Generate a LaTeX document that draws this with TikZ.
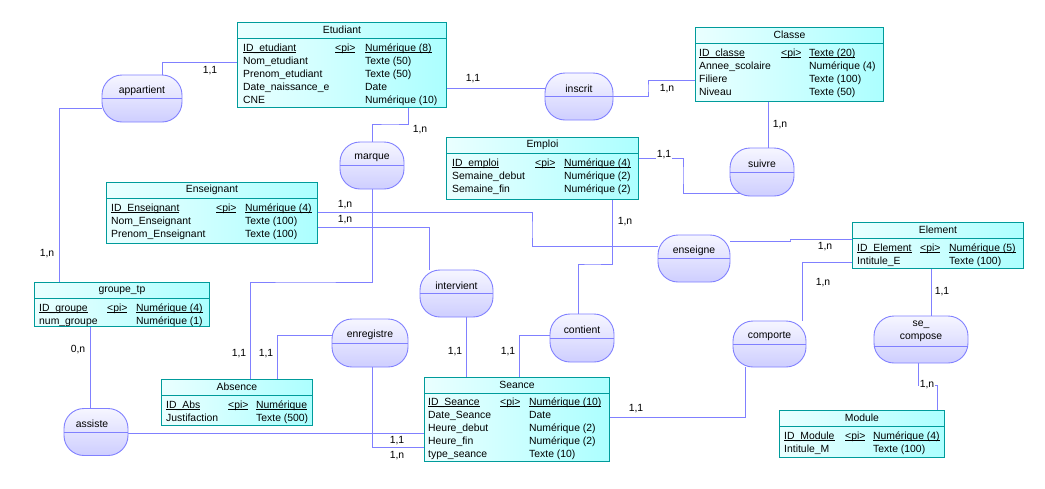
\documentclass[tikz,border=0pt]{standalone}
\usepackage{fontspec}
\setmainfont{Liberation Sans}
\usetikzlibrary{calc}
\pgfdeclarelayer{fond}
\pgfsetlayers{fond,main}

\definecolor{entBord}{RGB}{0,155,155}
\definecolor{entFondA}{RGB}{234,255,255}
\definecolor{entFondB}{RGB}{172,255,255}
\definecolor{assBord}{RGB}{128,128,255}
\definecolor{assFondA}{RGB}{246,246,255}
\definecolor{assFondB}{RGB}{206,206,255}

\newcommand{\mcdfont}{\fontsize{10.4}{13}\selectfont}
% identifiant souligne
\newcommand{\souligne}[1]{\leavevmode\setbox0\hbox{#1}\rlap{\rule[-1.8pt]{\wd0}{0.7pt}}\box0}

\tikzset{
  entite/.style={draw=entBord, line width=0.9pt, left color=entFondA, right color=entFondB,
                 anchor=north west, inner sep=0pt},
  titre/.style={inner sep=0pt},
  corps/.style={anchor=north west, inner sep=0pt},
  trait/.style={draw=entBord, line width=0.9pt},
  assoc/.style={draw=assBord, line width=0.9pt, rounded corners=20pt,
                top color=assFondA, bottom color=assFondB, inner sep=0pt},
  trait-a/.style={draw=assBord, line width=0.9pt},
  lien/.style={draw=assBord, line width=0.9pt},
  card/.style={inner sep=1pt}
}

\begin{document}
\begin{tikzpicture}[x=1pt, y=-1pt, every node/.style={font=\mcdfont}]
\useasboundingbox (0,0) rectangle (1045,488);

% ===================== ENTITES =====================
% Etudiant
\node[entite, minimum width=209pt, minimum height=85pt] (etudiant) at (237,22) {};
\node[titre] (etudiant-t) at ([yshift=-8pt]etudiant.north) {Etudiant};
\draw[trait] ([yshift=-16pt]etudiant.north west) -- ([yshift=-16pt]etudiant.north east);
\node[corps] (etudiant-c) at (243,42) {\begin{tabular}{@{}p{92pt}@{}p{30pt}@{}l@{}}
  \souligne{ID\_etudiant} & \souligne{<pi>} & \souligne{Numérique (8)}\\
  Nom\_etudiant & & Texte (50)\\
  Prenom\_etudiant & & Texte (50)\\
  Date\_naissance\_e & & Date\\
  CNE & & Numérique (10)
\end{tabular}};

% Classe
\node[entite, minimum width=188pt, minimum height=74pt] (classe) at (695,27) {};
\node[titre] (classe-t) at ([yshift=-8pt]classe.north) {Classe};
\draw[trait] ([yshift=-16pt]classe.north west) -- ([yshift=-16pt]classe.north east);
\node[corps] (classe-c) at (699,47) {\begin{tabular}{@{}p{82pt}@{}p{28pt}@{}l@{}}
  \souligne{ID\_classe} & \souligne{<pi>} & \souligne{Texte (20)}\\
  Annee\_scolaire & & Numérique (4)\\
  Filiere & & Texte (100)\\
  Niveau & & Texte (50)
\end{tabular}};

% Emploi
\node[entite, minimum width=192pt, minimum height=62pt] (emploi) at (446,137) {};
\node[titre] (emploi-t) at ([yshift=-8pt]emploi.north) {Emploi};
\draw[trait] ([yshift=-16pt]emploi.north west) -- ([yshift=-16pt]emploi.north east);
\node[corps] (emploi-c) at (452,157) {\begin{tabular}{@{}p{83pt}@{}p{29pt}@{}l@{}}
  \souligne{ID\_emploi} & \souligne{<pi>} & \souligne{Numérique (4)}\\
  Semaine\_debut & & Numérique (2)\\
  Semaine\_fin & & Numérique (2)
\end{tabular}};

% Enseignant
\node[entite, minimum width=211pt, minimum height=61pt] (enseignant) at (106,182) {};
\node[titre] (enseignant-t) at ([yshift=-8pt]enseignant.north) {Enseignant};
\draw[trait] ([yshift=-16pt]enseignant.north west) -- ([yshift=-16pt]enseignant.north east);
\node[corps] (enseignant-c) at (111,202) {\begin{tabular}{@{}p{105pt}@{}p{29pt}@{}l@{}}
  \souligne{ID\_Enseignant} & \souligne{<pi>} & \souligne{Numérique (4)}\\
  Nom\_Enseignant & & Texte (100)\\
  Prenom\_Enseignant & & Texte (100)
\end{tabular}};

% Element
\node[entite, minimum width=171pt, minimum height=46pt] (element) at (852,222) {};
\node[titre] (element-t) at ([yshift=-8pt]element.north) {Element};
\draw[trait] ([yshift=-16pt]element.north west) -- ([yshift=-16pt]element.north east);
\node[corps] (element-c) at (857,242) {\begin{tabular}{@{}p{63pt}@{}p{29pt}@{}l@{}}
  \souligne{ID\_Element} & \souligne{<pi>} & \souligne{Numérique (5)}\\
  Intitule\_E & & Texte (100)
\end{tabular}};

% groupe_tp
\node[entite, minimum width=175pt, minimum height=44pt] (groupe) at (34,282) {};
\node[titre] (groupe-t) at ([yshift=-8pt]groupe.north) {groupe\_tp};
\draw[trait] ([yshift=-16pt]groupe.north west) -- ([yshift=-16pt]groupe.north east);
\node[corps] (groupe-c) at (39,302) {\begin{tabular}{@{}p{68pt}@{}p{29pt}@{}l@{}}
  \souligne{ID\_groupe} & \souligne{<pi>} & \souligne{Numérique (4)}\\
  num\_groupe & & Numérique (1)
\end{tabular}};

% Absence
\node[entite, minimum width=151pt, minimum height=46pt] (absence) at (161,379) {};
\node[titre] (absence-t) at ([yshift=-8pt]absence.north) {Absence};
\draw[trait] ([yshift=-16pt]absence.north west) -- ([yshift=-16pt]absence.north east);
\node[corps] (absence-c) at (166,399) {\begin{tabular}{@{}p{62pt}@{}p{28pt}@{}l@{}}
  \souligne{ID\_Abs} & \souligne{<pi>} & \souligne{Numérique}\\
  Justifaction & & Texte (500)
\end{tabular}};

% Seance
\node[entite, minimum width=185pt, minimum height=84pt] (seance) at (424,377) {};
\node[titre] (seance-t) at ([yshift=-8pt]seance.north) {Seance};
\draw[trait] ([yshift=-16pt]seance.north west) -- ([yshift=-16pt]seance.north east);
\node[corps] (seance-c) at (428,396) {\begin{tabular}{@{}p{72pt}@{}p{29pt}@{}l@{}}
  \souligne{ID\_Seance} & \souligne{<pi>} & \souligne{Numérique (10)}\\
  Date\_Seance & & Date\\
  Heure\_debut & & Numérique (2)\\
  Heure\_fin & & Numérique (2)\\
  type\_seance & & Texte (10)
\end{tabular}};

% Module
\node[entite, minimum width=165pt, minimum height=47pt] (module) at (779,410) {};
\node[titre] (module-t) at ([yshift=-8pt]module.north) {Module};
\draw[trait] ([yshift=-16pt]module.north west) -- ([yshift=-16pt]module.north east);
\node[corps] (module-c) at (784,430) {\begin{tabular}{@{}p{61pt}@{}p{28pt}@{}l@{}}
  \souligne{ID\_Module} & \souligne{<pi>} & \souligne{Numérique (4)}\\
  Intitule\_M & & Texte (100)
\end{tabular}};

% ===================== ASSOCIATIONS =====================
\node[assoc, minimum width=80pt, minimum height=47pt] (appartient) at (142,98.5) {};
\node (appartient-t) at ([yshift=8pt]appartient.center) {appartient};
\draw[trait-a] (appartient.west) -- (appartient.east);

\node[assoc, minimum width=68pt, minimum height=47pt] (inscrit) at (579,96.5) {};
\node (inscrit-t) at ([yshift=8pt]inscrit.center) {inscrit};
\draw[trait-a] (inscrit.west) -- (inscrit.east);

\node[assoc, minimum width=64pt, minimum height=47pt] (marque) at (372,165.5) {};
\node (marque-t) at ([yshift=8pt]marque.center) {marque};
\draw[trait-a] (marque.west) -- (marque.east);

\node[assoc, minimum width=64pt, minimum height=48pt] (suivre) at (762,172) {};
\node (suivre-t) at ([yshift=8pt]suivre.center) {suivre};
\draw[trait-a] (suivre.west) -- (suivre.east);

\node[assoc, minimum width=72pt, minimum height=47pt] (enseigne) at (694,258.5) {};
\node (enseigne-t) at ([yshift=8pt]enseigne.center) {enseigne};
\draw[trait-a] (enseigne.west) -- (enseigne.east);

\node[assoc, minimum width=73pt, minimum height=47pt] (intervient) at (456.5,293.5) {};
\node (intervient-t) at ([yshift=8pt]intervient.center) {intervient};
\draw[trait-a] (intervient.west) -- (intervient.east);

\node[assoc, minimum width=64pt, minimum height=48pt] (contient) at (582,338) {};
\node (contient-t) at ([yshift=8pt]contient.center) {contient};
\draw[trait-a] (contient.west) -- (contient.east);

\node[assoc, minimum width=76pt, minimum height=48pt] (enregistre) at (370,343) {};
\node (enregistre-t) at ([yshift=8pt]enregistre.center) {enregistre};
\draw[trait-a] (enregistre.west) -- (enregistre.east);

\node[assoc, minimum width=73pt, minimum height=46pt] (comporte) at (769.5,344) {};
\node (comporte-t) at ([yshift=8pt]comporte.center) {comporte};
\draw[trait-a] (comporte.west) -- (comporte.east);

\node[assoc, minimum width=94pt, minimum height=47pt] (secompose) at (921,339.5) {};
\node[align=center] (secompose-t) at ([yshift=8pt]secompose.center) {se\_\\compose};
\draw[trait-a] (secompose.west |- 0,346) -- (secompose.east |- 0,346);

\node[assoc, minimum width=64pt, minimum height=47pt] (assiste) at (96,432) {};
\node (assiste-t) at ([xshift=-4pt,yshift=8pt]assiste.center) {assiste};
\draw[trait-a] (assiste.west) -- (assiste.east);

% ===================== LIENS =====================
\begin{pgfonlayer}{fond}
  \draw[lien] (appartient.north -| 162,0) |- (etudiant.west |- 0,62);
  \draw[lien] (appartient.west |- 0,108) -| (groupe.north -| 59,0);
  \draw[lien] (etudiant.east |- 0,88) -- (inscrit.west |- 0,88);
  \draw[lien] (inscrit.east |- 0,96) -| (648,88) |- (classe.west |- 0,80);
  \draw[lien] (classe.south -| 768,0) -- (suivre.north -| 768,0);
  \draw[lien] (emploi.east |- 0,158) -| (683,175) |- ([xshift=10pt,yshift=3pt]suivre.south west);
  \draw[lien] (etudiant.south -| 408,0) |- (390,124) -| (marque.north);
  \draw[lien] (marque.south) |- (300,282) -| (absence.north -| 250,0);
  \draw[lien] (enseignant.east |- 0,212) -| (532,230) |- (enseigne.west |- 0,246);
  \draw[lien] (enseignant.east |- 0,227) -| (intervient.north -| 429,0);
  \draw[lien] (intervient.south -| 466,0) -- (seance.north -| 466,0);
  \draw[lien] (emploi.south -| 612,0) |- (590,264) -| (contient.north -| 578,0);
  \draw[lien] (contient.west |- 0,335) -| (seance.north -| 519,0);
  \draw[lien] (enseigne.east |- 0,241) -| (790,240) |- (element.west |- 0,239);
  \draw[lien] (element.west |- 0,262) -| (comporte.north -| 802,0);
  \draw[lien] (comporte.south -| 745,0) |- (seance.east |- 0,417);
  \draw[lien] (element.south -| 931,0) -- (secompose.north -| 931,0);
  \draw[lien] (secompose.south -| 918,0) |- (930,385) -| (module.north -| 937,0);
  \draw[lien] (enregistre.west |- 0,335) -| (absence.north -| 277,0);
  \draw[lien] (enregistre.south -| 372,0) |- (seance.west |- 0,447);
  \draw[lien] (assiste.east |- 0,433) -- (seance.west |- 0,433);
  \draw[lien] (groupe.south -| 90,0) -- (assiste.north -| 90,0);
\end{pgfonlayer}

% ===================== CARDINALITES =====================
\node[card] (c-app-etu) at (210,71) {1,1};
\node[card] (c-app-grp) at (47,254) {1,n};
\node[card] (c-ins-etu) at (473,79) {1,1};
\node[card] (c-ins-cla) at (667,89) {1,n};
\node[card] (c-sui-cla) at (780,125) {1,n};
\node[card, fill=white] (c-sui-emp) at (664,155) {1,1};
\node[card] (c-mar-etu) at (420,130) {1,n};
\node[card] (c-mar-abs) at (239,354) {1,1};
\node[card] (c-ens-ens) at (345,205) {1,n};
\node[card] (c-int-ens) at (345,220) {1,n};
\node[card] (c-int-sea) at (455,352) {1,1};
\node[card] (c-con-emp) at (625,222) {1,n};
\node[card] (c-con-sea) at (508,352) {1,1};
\node[card] (c-ens-ele) at (825,247) {1,n};
\node[card] (c-com-ele) at (823,283) {1,n};
\node[card] (c-com-sea) at (636,409) {1,1};
\node[card] (c-sec-ele) at (942,292) {1,1};
\node[card, fill=white] (c-sec-mod) at (927,385) {1,n};
\node[card] (c-enr-abs) at (266,354) {1,1};
\node[card] (c-ass-sea) at (397,441) {1,1};
\node[card] (c-enr-sea) at (397,456) {1,n};
\node[card] (c-ass-grp) at (78,350) {0,n};

\end{tikzpicture}
\end{document}
